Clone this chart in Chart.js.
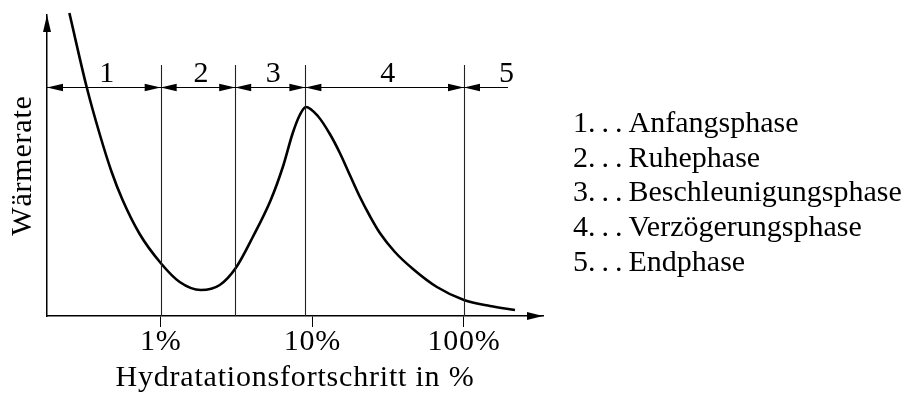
<!DOCTYPE html>
<html>
<head>
<meta charset="utf-8">
<script src="https://cdn.jsdelivr.net/npm/chart.js@4/dist/chart.umd.min.js"></script>
<style>
  html, body { margin: 0; padding: 0; background: #fff; }
</style>
</head>
<body>
<canvas id="waerme" width="906" height="394"></canvas>
<script>
// Hydratationsfortschritt in % (log) und Wärmerate (relative Einheiten)
const hydration = [0.25, 0.325, 0.396, 0.475, 0.561, 0.727, 1.0, 1.335, 1.837, 2.452, 3.126, 4.05, 5.32, 6.39, 7.43, 8.27, 9.06, 10.87, 13.05, 15.19, 17.68, 20.6, 23.96, 27.9, 35.04, 46.1, 66.3, 100, 148.5, 217];
const heatRate = [303, 229, 182, 144, 116, 82, 53, 34, 26, 31, 48, 79, 116, 149, 183, 201, 209, 200, 182, 163, 141, 119, 100, 83, 64, 47, 29, 16, 10, 6];

const tickValues = [1, 10, 100];
// Grenzen zwischen den Phasen
const phaseBounds = [1, 3.1, 9.0, 100];
const phaseNumbers = ['1', '2', '3', '4', '5'];
const phaseNames = ['Anfangsphase', 'Ruhephase', 'Beschleunigungsphase', 'Verzögerungsphase', 'Endphase'];

const FONT = '"Liberation Serif", "DejaVu Serif", serif';
const SIZE = 30;
Chart.defaults.font.family = FONT;
Chart.defaults.font.size = SIZE;
Chart.defaults.color = '#000';

function arrowHead(ctx, x, y, dir, len, half) {
  ctx.beginPath();
  if (dir === 'left' || dir === 'right') {
    const s = dir === 'left' ? 1 : -1;
    ctx.moveTo(x, y);
    ctx.lineTo(x + s * len, y - half);
    ctx.lineTo(x + s * len, y + half);
  } else {
    ctx.moveTo(x, y);
    ctx.lineTo(x - half, y + len);
    ctx.lineTo(x + half, y + len);
  }
  ctx.closePath();
  ctx.fill();
}

const phasePlugin = {
  id: 'phasen',
  beforeDraw(chart) {
    // etwas weiter gesetzte Achsentitel
    chart.ctx.letterSpacing = '0.8px';
  },
  afterDraw(chart) {
    const {ctx, chartArea: area, scales: {x}} = chart;
    ctx.letterSpacing = '0px';
    ctx.save();
    ctx.fillStyle = '#000';

    // Achsenpfeile
    arrowHead(ctx, area.left, area.top, 'up', 17, 4);
    arrowHead(ctx, area.right, area.bottom, 'right', 16, 4);

    // senkrechte Phasengrenzen
    const lineTop = 65;
    ctx.lineWidth = 1.1;
    ctx.strokeStyle = '#222';
    phaseBounds.forEach(v => {
      const px = Math.round(x.getPixelForValue(v)) + 0.5;
      ctx.beginPath();
      ctx.moveTo(px, lineTop);
      ctx.lineTo(px, area.bottom);
      ctx.stroke();
    });

    // Maßpfeile mit Phasennummern
    const yArr = 87.5;
    const edges = [area.left, ...phaseBounds.map(v => x.getPixelForValue(v))];
    const lineEnd = x.getPixelForValue(195);
    ctx.lineWidth = 1;
    ctx.strokeStyle = '#000';
    ctx.beginPath();
    ctx.moveTo(area.left, yArr);
    ctx.lineTo(lineEnd, yArr);
    ctx.stroke();
    for (let i = 0; i < edges.length - 1; i++) {
      arrowHead(ctx, edges[i], yArr, 'left', 16, 3.8);
      arrowHead(ctx, edges[i + 1], yArr, 'right', 16, 3.8);
    }
    arrowHead(ctx, edges[edges.length - 1], yArr, 'left', 16, 3.8);

    const ends = [...edges, area.right];
    ctx.font = SIZE + 'px ' + FONT;
    ctx.textAlign = 'center';
    ctx.textBaseline = 'alphabetic';
    phaseNumbers.forEach((n, i) => {
      ctx.fillText(n, (ends[i] + ends[i + 1]) / 2 + 3, 82);
    });

    // Legende der Phasen
    ctx.textAlign = 'left';
    phaseNames.forEach((name, i) => {
      ctx.fillText(phaseNumbers[i] + '.\u2009.\u2009.\u2009' + name, 573, 132 + i * 34.7);
    });
    ctx.restore();
  }
};

new Chart(document.getElementById('waerme'), {
  type: 'line',
  data: {
    datasets: [{
      data: hydration.map((v, i) => ({x: v, y: heatRate[i]})),
      borderColor: '#000',
      borderWidth: 2.6,
      pointRadius: 0,
      cubicInterpolationMode: 'monotone',
      fill: false,
      clip: false
    }]
  },
  options: {
    responsive: false,
    animation: false,
    events: [],
    layout: { padding: { top: 15, right: 363, bottom: 0, left: 0 } },
    plugins: { legend: { display: false }, tooltip: { enabled: false } },
    scales: {
      x: {
        type: 'logarithmic',
        min: 0.178,
        max: 332,
        afterFit(scale) { scale.height = 78; },
        afterBuildTicks(scale) { scale.ticks = tickValues.map(v => ({value: v})); },
        ticks: {
          autoSkip: false,
          maxRotation: 0,
          padding: 0,
          font: { size: SIZE, lineHeight: 1 },
          callback: v => v + '%'
        },
        grid: { drawOnChartArea: false, drawTicks: true, tickLength: 11, color: '#000', lineWidth: 1 },
        border: { display: true, color: '#000', width: 1.5 },
        title: {
          display: true,
          text: 'Hydratationsfortschritt in %',
          font: { size: SIZE, lineHeight: 1 },
          padding: { top: 0, bottom: 1.2 }
        }
      },
      y: {
        min: 0,
        max: 301,
        afterFit(scale) { scale.width = 47; },
        ticks: { display: false },
        grid: { display: false },
        border: { display: true, color: '#000', width: 1.5 },
        title: {
          display: true,
          text: 'Wärmerate',
          font: { size: SIZE, lineHeight: 1 },
          padding: { top: 7.8, bottom: 0 }
        }
      }
    }
  },
  plugins: [phasePlugin]
});
</script>
</body>
</html>
